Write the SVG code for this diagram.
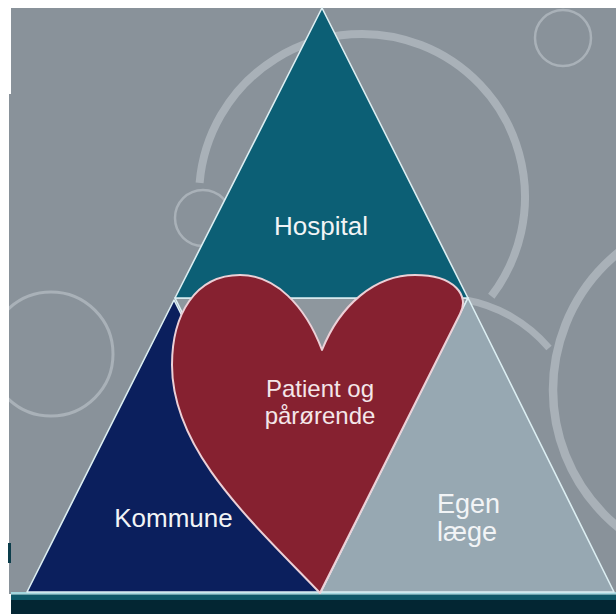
<svg xmlns="http://www.w3.org/2000/svg" width="616" height="614" viewBox="0 0 616 614">
  <style>
    .ring { fill: none; stroke: #a9b1b8; }
    .tri { stroke: #dceef2; stroke-width: 1.6; stroke-linejoin: round; }
    .lbl { font-family: "Liberation Sans", Arial, sans-serif; fill: #f2f4f6; }
    .hlbl { font-family: "Liberation Sans", Arial, sans-serif; fill: #f4e6e9; font-size: 24px; text-anchor: middle; }
  </style>
  <defs>
    <clipPath id="bgclip">
      <polygon points="11,8 616,8 616,594 9,594 9,94 11,94"/>
    </clipPath>
  </defs>
  <rect x="0" y="0" width="616" height="614" fill="#ffffff"/>
  <g id="background">
    <rect x="11" y="8" width="605" height="87" fill="#89929a"/>
    <rect x="9" y="94" width="607" height="500" fill="#89929a"/>
    <rect x="8" y="543" width="3" height="20" fill="#0c3d4b"/>
    <g clip-path="url(#bgclip)">
      <circle class="ring" cx="563" cy="38" r="28" stroke-width="2.5"/>
      <circle class="ring" cx="203" cy="218" r="28" stroke-width="2.5"/>
      <circle class="ring" cx="51" cy="354" r="62" stroke-width="3"/>
      <path class="ring" d="M 199.6 182.8 A 163 163 0 1 1 491.3 296.2" stroke-width="8" stroke-linecap="butt"/>
      <path class="ring" d="M 464.7 299.7 A 142.5 142.5 0 0 1 549 348" stroke-width="7"/>
      <circle class="ring" cx="730" cy="390" r="177" stroke-width="8.5"/>
    </g>
    <rect x="11" y="592" width="605" height="2.5" fill="#a3d6de"/>
    <rect x="11" y="594.5" width="605" height="5.5" fill="#0e5868"/>
    <rect x="11" y="600" width="605" height="14" fill="#032633"/>
  </g>
  <g id="middle">
    <polygon class="tri" points="175,298 468,298 321,592" fill="#8e979e"/>
  </g>
  <g id="hospital">
    <polygon class="tri" points="322,8 468,298 175,298" fill="#0c5f75"/>
    <text class="lbl" x="321" y="235" font-size="26" text-anchor="middle">Hospital</text>
  </g>
  <g id="kommune">
    <polygon class="tri" points="174,300 321,592 27,592" fill="#0b1f5d"/>
    <text class="lbl" x="173.5" y="527" font-size="26" text-anchor="middle">Kommune</text>
  </g>
  <g id="egen-laege">
    <polygon class="tri" points="468,298 614,592 321,592" fill="#97a8b2"/>
    <text class="lbl" x="437" y="513" font-size="27">Egen</text>
    <text class="lbl" x="437" y="541" font-size="27">læge</text>
  </g>
  <g id="patient">
    <path d="M 322 350 C 305 305 275 275 240 275 C 195 275 172 315 172 365 C 172 450 250 520 320 593 L 460 314 C 470 296 455 275 415 275 C 375 275 340 305 322 350 Z" fill="#862130" stroke="#ecd0d7" stroke-width="2" stroke-linejoin="round"/>
    <text class="hlbl" x="320" y="397">Patient og</text>
    <text class="hlbl" x="320" y="424">pårørende</text>
  </g>
  <g id="connectors"></g>
</svg>
